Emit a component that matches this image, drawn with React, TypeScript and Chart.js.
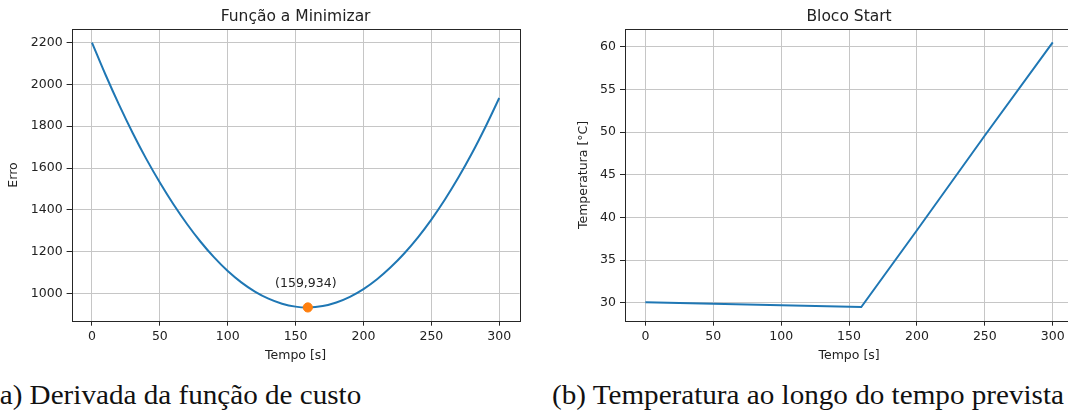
import { useEffect, useRef } from "react";
import { Chart, registerables } from "chart.js";

Chart.register(...registerables);

// Shared axis ticks
const tempoTicks = [0, 50, 100, 150, 200, 250, 300];
const erroTicks = [1000, 1200, 1400, 1600, 1800, 2000, 2200];
const temperaturaTicks = [30, 35, 40, 45, 50, 55, 60];

// (a) cost function over time
const tempoErro = [
  0, 10, 20, 30, 40, 50, 60, 70, 80, 90, 100, 110, 120, 130, 140, 150, 159,
  170, 180, 190, 200, 210, 220, 230, 240, 250, 260, 270, 280, 290, 300,
];
const erro = [
  2200, 2046, 1902, 1768, 1644, 1531, 1427, 1333, 1248, 1173, 1108, 1054, 1010,
  976, 952, 938, 934, 941, 958, 985, 1022, 1069, 1126, 1192, 1268, 1354, 1450,
  1556, 1672, 1799, 1935,
];
const minimoTempo = 159;
const minimoErro = 934;

// (b) predicted block temperature
const tempoTemperatura = [0, 50, 100, 159, 200, 250, 300];
const temperatura = [30.05, 29.88, 29.72, 29.5, 38.5, 49.6, 60.5];

const FONT = '"DejaVu Sans", sans-serif';
const TEXT = "#222";
const GRID = "#c6c6c6";
const AXIS_H = 49.3;

type Deco = {
  title: string;
  xLabel: string;
  yLabel: string;
  yLabelX: number;
  note?: { x: number; y: number; text: string; dx: number; dy: number };
};

const decorations = {
  id: "decorations",
  afterDraw(chart: any, _args: any, opts: Deco) {
    const { ctx, chartArea: a } = chart;
    ctx.save();
    ctx.strokeStyle = "#262626";
    ctx.lineWidth = 1;
    ctx.strokeRect(
      Math.round(a.left) + 0.5,
      Math.round(a.top) + 0.5,
      Math.round(a.right) - Math.round(a.left),
      Math.round(a.bottom) - Math.round(a.top)
    );
    const cx = (a.left + a.right) / 2;
    ctx.fillStyle = TEXT;
    ctx.textAlign = "center";
    ctx.textBaseline = "middle";
    ctx.font = `15.5px ${FONT}`;
    ctx.fillText(opts.title, cx, 16.5);
    ctx.font = `12.5px ${FONT}`;
    ctx.fillText(opts.xLabel, cx, 356);
    if (opts.note) {
      const px = chart.scales.x.getPixelForValue(opts.note.x);
      const py = chart.scales.y.getPixelForValue(opts.note.y);
      ctx.fillText(opts.note.text, px + opts.note.dx, py + opts.note.dy);
    }
    ctx.translate(opts.yLabelX, (a.top + a.bottom) / 2);
    ctx.rotate(-Math.PI / 2);
    ctx.fillText(opts.yLabel, 0, 0);
    ctx.restore();
  },
};

function axis(ticks: number[], min: number, max: number, fit: (s: any) => void) {
  return {
    type: "linear" as const,
    min,
    max,
    afterBuildTicks: (s: any) => {
      s.ticks = ticks.map((v) => ({ value: v }));
    },
    afterFit: fit,
    grid: {
      color: GRID,
      lineWidth: 1,
      drawTicks: true,
      tickLength: 5,
      tickColor: "#262626",
    },
    border: { display: false },
    ticks: {
      autoSkip: false,
      maxRotation: 0,
      padding: 4,
      color: TEXT,
      font: { family: FONT, size: 12.5 },
      callback: (v: any) => String(v),
    },
  };
}

function useChart(build: (c: HTMLCanvasElement) => Chart) {
  const ref = useRef<HTMLCanvasElement | null>(null);
  useEffect(() => {
    if (!ref.current) return;
    const chart = build(ref.current);
    return () => chart.destroy();
  }, []);
  return ref;
}

function ErroChart() {
  const ref = useChart(
    (c) =>
      new Chart(c, {
        type: "line",
        data: {
          datasets: [
            {
              type: "scatter",
              data: [{ x: minimoTempo, y: minimoErro }],
              backgroundColor: "#ff7f0e",
              borderColor: "#ff7f0e",
              pointRadius: 4.6,
              order: 0,
            },
            {
              data: tempoErro.map((t, i) => ({ x: t, y: erro[i] })),
              borderColor: "#1f77b4",
              borderWidth: 2,
              pointRadius: 0,
              tension: 0.4,
              order: 1,
            },
          ],
        } as any,
        options: {
          responsive: false,
          animation: false,
          layout: { padding: { top: 29.3, right: 20.4, left: 0, bottom: 0 } },
          scales: {
            x: axis(tempoTicks, -15, 315, (s) => {
              s.height = AXIS_H;
            }),
            y: axis(erroTicks, 870.7, 2263.3, (s) => {
              s.width = 71.6;
            }),
          },
          plugins: {
            legend: { display: false },
            tooltip: { enabled: false },
            decorations: {
              title: "Função a Minimizar",
              xLabel: "Tempo [s]",
              yLabel: "Erro",
              yLabelX: 13.8,
              note: {
                x: minimoTempo,
                y: minimoErro,
                text: `(${minimoTempo},${minimoErro})`,
                dx: -2,
                dy: -23.7,
              },
            },
          } as any,
        },
        plugins: [decorations],
      })
  );
  return <canvas ref={ref} width={540} height={370} style={{ display: "block" }} />;
}

function TemperaturaChart() {
  const ref = useChart(
    (c) =>
      new Chart(c, {
        type: "line",
        data: {
          datasets: [
            {
              data: tempoTemperatura.map((t, i) => ({ x: t, y: temperatura[i] })),
              borderColor: "#1f77b4",
              borderWidth: 2,
              pointRadius: 0,
              tension: 0,
            },
          ],
        },
        options: {
          responsive: false,
          animation: false,
          layout: { padding: { top: 29.2, right: 26.9, left: 0, bottom: 0 } },
          scales: {
            x: axis(tempoTicks, -15, 315, (s) => {
              s.height = AXIS_H;
            }),
            y: axis(temperaturaTicks, 27.9, 62.05, (s) => {
              s.width = 85;
            }),
          },
          plugins: {
            legend: { display: false },
            tooltip: { enabled: false },
            decorations: {
              title: "Bloco Start",
              xLabel: "Tempo [s]",
              yLabel: "Temperatura [°C]",
              yLabelX: 43.8,
            },
          } as any,
        },
        plugins: [decorations],
      })
  );
  return <canvas ref={ref} width={560} height={370} style={{ display: "block" }} />;
}

const captionStyle = {
  position: "absolute" as const,
  top: 382.4,
  fontFamily: '"Liberation Serif", serif',
  fontSize: 27,
  lineHeight: "27px",
  whiteSpace: "nowrap" as const,
  color: "#111",
  transform: "scaleX(1.079)",
  transformOrigin: "left top",
};

export default function App() {
  return (
    <div
      style={{
        position: "fixed",
        left: 0,
        top: 0,
        width: 1068,
        height: 417,
        overflow: "hidden",
        background: "#fff",
      }}
    >
      <div style={{ position: "absolute", left: 0, top: 0 }}>
        <ErroChart />
      </div>
      <div style={{ position: "absolute", left: 540, top: 0 }}>
        <TemperaturaChart />
      </div>
      <div style={{ ...captionStyle, left: -9.7 }}>(a) Derivada da função de custo</div>
      <div style={{ ...captionStyle, left: 552 }}>(b) Temperatura ao longo do tempo prevista</div>
    </div>
  );
}
